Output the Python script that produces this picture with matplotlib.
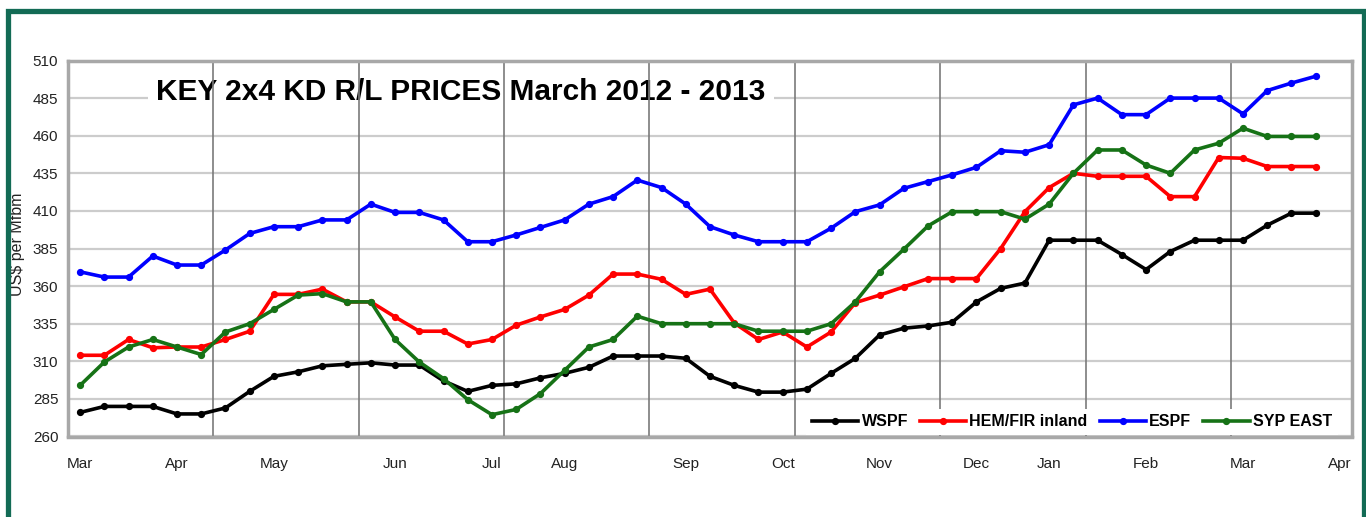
import numpy as np
import matplotlib
matplotlib.use("Agg")
import matplotlib.pyplot as plt
from matplotlib.patches import Rectangle

plt.rcParams['font.family'] = ['Liberation Sans', 'DejaVu Sans']

# weekly prices, March 2012 - March 2013 (US$ per Mfbm)
wspf = [276, 280, 280, 280, 275, 275, 279, 290, 300, 303, 307, 308, 309, 307.5, 307.5,
        297, 290, 294, 295, 299, 302, 306, 313.5, 313.5, 313.5, 312, 300, 294, 289.5, 289.5,
        291.5, 302, 312, 327.5, 332, 333.5, 336, 349.5, 358.5, 362, 390.5, 390.5, 390.5,
        381, 371, 383, 390.5, 390.5, 390.5, 400.5, 408.5, 408.5]
hemfir = [314, 314, 324.5, 319, 319.5, 319.5, 324.5, 330, 354.5, 354.5, 358, 349.5, 349.5,
          339.5, 330, 330, 321.5, 324.5, 334, 339.5, 344.5, 354, 368, 368, 364.5, 354.5,
          358, 335.5, 324.5, 329.5, 319.5, 329.5, 349, 354, 359.5, 365, 365, 365, 385,
          409.5, 425.5, 435, 433, 433, 433, 419.5, 419.5, 445.5, 445, 439.5, 439.5, 439.5]
espf = [369.5, 366, 366, 380, 374, 374, 384, 395, 399.5, 399.5, 404, 404, 414.5, 409, 409,
        404, 389.5, 389.5, 394, 399, 404, 414.5, 419.5, 430.5, 425.5, 414.5, 399.5, 394,
        389.5, 389.5, 389.5, 398.5, 409.5, 414, 425, 429.5, 434, 439, 450, 449, 454,
        480.5, 485, 474, 474, 485, 485, 485, 474.5, 490, 495, 499.5]
syp_east = [294, 309.5, 319.5, 324.5, 319.5, 314.5, 329.5, 335, 344.5, 354, 355, 349.5,
            349.5, 324.5, 309.5, 298.5, 284.5, 274.5, 278, 288.5, 304, 319.5, 324.5, 340,
            335, 335, 335, 335, 330, 330, 330, 335, 349.5, 369.5, 384.5, 400, 409.5, 409.5,
            409.5, 404.5, 414.5, 435, 450.5, 450.5, 440.5, 435, 450.5, 455, 465, 459.5,
            459.5, 459.5]

month_pos = [0, 4, 8, 13, 17, 20, 25, 29, 33, 37, 40, 44, 48, 52]
month_labels = ['Mar', 'Apr', 'May', 'Jun', 'Jul', 'Aug', 'Sep', 'Oct', 'Nov', 'Dec',
                'Jan', 'Feb', 'Mar', 'Apr']

series = [("WSPF", wspf, "black"),
          ("HEM/FIR inland", hemfir, "#ff0000"),
          ("ESPF", espf, "#0000ff"),
          ("SYP EAST", syp_east, "#167216")]

fig = plt.figure(figsize=(13.66, 5.17), dpi=100)
ax = fig.add_axes([68 / 1366, 80.5 / 517, 1284 / 1366, 376 / 517])

weeks = np.arange(len(wspf))
for name, vals, col in series:
    ax.plot(weeks, vals, color=col, lw=2.6, marker='o', ms=4.2, label=name, zorder=3)

ax.set_xlim(-0.5, 52.5)
ax.set_ylim(260, 510)
ax.set_yticks(np.arange(260, 511, 25))
ax.set_xticks(month_pos)
ax.set_xticklabels(month_labels)
ax.tick_params(axis='both', length=0, labelsize=11, labelcolor='#222222')
ax.tick_params(axis='x', pad=15)
ax.tick_params(axis='y', pad=7)

# horizontal grid under the title box, vertical lines over it
ax.grid(axis='y', color='#cccccc', lw=1.6)
ax.set_axisbelow(True)
for xv in np.arange(5.5, 52, 6):
    ax.axvline(xv, color='#7a7a7a', lw=1.2, zorder=1.5)
for sp in ax.spines.values():
    sp.set_color('#a8a8a8')
    sp.set_linewidth(2.5)

ax.set_ylabel("US$ per Mfbm", fontsize=11.5, color='#222222')
ax.yaxis.set_label_coords(-0.0335, 0.51)

ax.text(0.0685, 0.915, "KEY 2x4 KD R/L PRICES March 2012 - 2013", transform=ax.transAxes,
        fontsize=21.5, fontweight='bold', ha='left', va='center', zorder=1,
        bbox=dict(facecolor='white', edgecolor='none', pad=6))

leg = ax.legend(loc='lower right', bbox_to_anchor=(0.99, 0.0), ncol=4, frameon=True,
                fancybox=False, framealpha=1, edgecolor='none', facecolor='white',
                prop={'weight': 'bold', 'size': 11.5}, handlelength=2.9,
                handletextpad=0.2, columnspacing=0.75, borderpad=0.35, borderaxespad=0.1)

# green frame round the picture
fig.patches.append(Rectangle((7.5 / 1366, -0.1), 1356 / 1366, 1.1 - 10.5 / 517,
                             transform=fig.transFigure, fill=False,
                             edgecolor='#136b55', lw=3.8, zorder=10))

fig.savefig("out.png", dpi=100)
